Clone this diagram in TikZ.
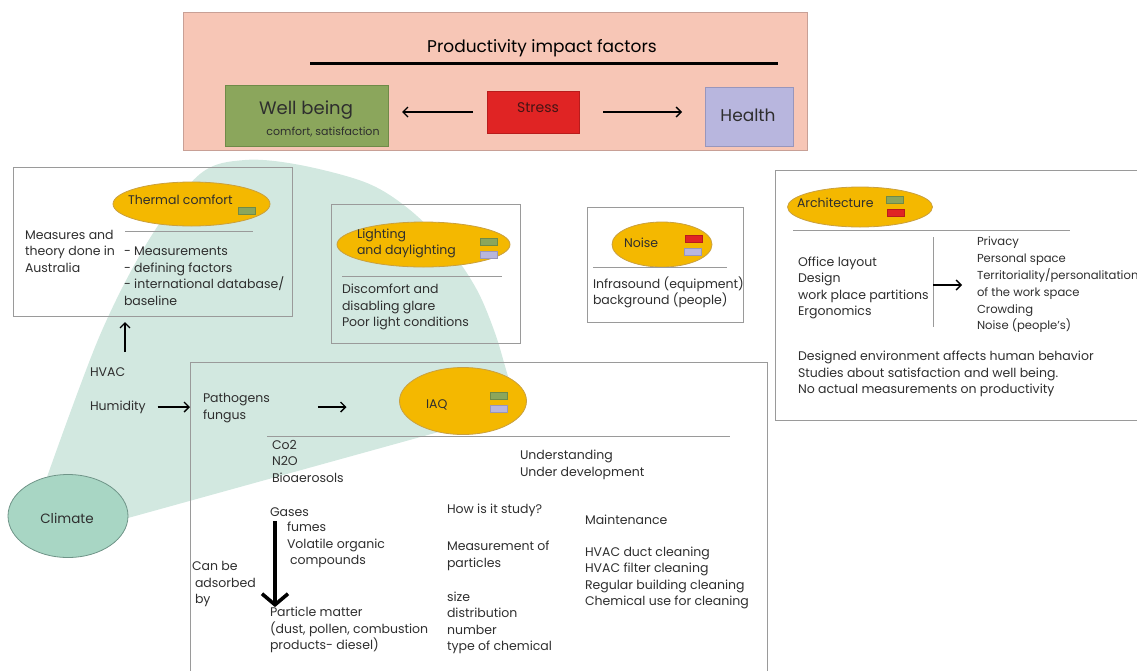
\documentclass[tikz,border=0pt]{standalone}
\usepackage{fontspec}
\setmainfont{Poppins}
\usetikzlibrary{shapes.geometric,arrows.meta}
\definecolor{pinkbg}{HTML}{F7C6B6}
\definecolor{pinkdraw}{HTML}{C8A096}
\definecolor{wbgreen}{HTML}{8BA65C}
\definecolor{wbgreendraw}{HTML}{6F8A48}
\definecolor{stressred}{HTML}{E02424}
\definecolor{stressdraw}{HTML}{B81C1C}
\definecolor{healthlav}{HTML}{B8B6DE}
\definecolor{healthdraw}{HTML}{9896BC}
\definecolor{gold}{HTML}{F4B800}
\definecolor{golddraw}{HTML}{C9A040}
\definecolor{wedgecol}{HTML}{D2E8E0}
\definecolor{climfill}{HTML}{A8D6C4}
\definecolor{climdraw}{HTML}{6F9488}
\definecolor{boxgray}{HTML}{9A9A9A}
\definecolor{txtgray}{HTML}{2E2E2E}
\tikzset{
  every node/.style={inner sep=0pt, outer sep=0pt},
  body/.style={font=\fontsize{12.5}{16.5}\selectfont, align=left, anchor=west, text=txtgray},
  frame/.style={draw=boxgray, line width=0.9pt, rectangle, anchor=north west},
  oval/.style={ellipse, fill=gold, draw=golddraw, line width=0.8pt},
  tagbase/.style={rectangle, line width=0.6pt, minimum width=17pt, minimum height=7pt},
  tagg/.style={tagbase, fill=wbgreen, draw=wbgreendraw},
  tagl/.style={tagbase, fill=healthlav, draw=healthdraw},
  tagr/.style={tagbase, fill=stressred, draw=stressdraw},
  sepline/.style={draw=boxgray, line width=0.9pt},
  arr/.style={-{Straight Barb[length=5pt,width=10pt]}, line width=1.4pt, black},
}
\begin{document}
\begin{tikzpicture}[x=1pt,y=-1pt]
\useasboundingbox (0,0) rectangle (1137,670);
% green wedge from climate
\fill[wedgecol] plot[smooth, tension=0.55] coordinates {(47,477) (100,335) (150,238) (200,174) (245,160) (300,165) (367,183) (410,210) (450,250) (477,290) (495,333) (507,373) (518,410)} -- (128,518) -- (60,500) -- cycle;

% top box
\node[frame, draw=pinkdraw, fill=pinkbg, minimum width=624pt, minimum height=138pt] (prodbox) at (183,12) {};
\node[font=\fontsize{17}{20}\selectfont] (title) at (542,48) {Productivity impact factors};
\draw[line width=3pt] (310,63) -- (778,63);
\node[rectangle, fill=wbgreen, draw=wbgreendraw, line width=0.8pt, minimum width=163pt, minimum height=61pt] (wellbeing) at (306.5,115.5) {};
\node[font=\fontsize{18}{20}\selectfont, text=txtgray] (wbtext) at (306,110) {Well being};
\node[font=\fontsize{11}{13}\selectfont, text=txtgray] (wbsub) at (323,132) {comfort, satisfaction};
\node[rectangle, fill=stressred, draw=stressdraw, line width=0.8pt, minimum width=92pt, minimum height=42pt] (stress) at (533,112) {};
\node[font=\fontsize{14}{16}\selectfont, text={rgb,255:red,70;green,20;blue,20}] (stresstext) at (538,108) {Stress};
\node[rectangle, fill=healthlav, draw=healthdraw, line width=0.8pt, minimum width=88pt, minimum height=59pt] (health) at (749,116.5) {};
\node[font=\fontsize{17}{20}\selectfont, text=txtgray] (healthtext) at (748,115) {Health};
\draw[arr, shorten <=14pt, shorten >=14pt] (stress.west) -- (wellbeing.east |- stress.west);
\draw[arr, shorten <=24pt, shorten >=23pt] (stress.east) -- (health.west |- stress.east);

% thermal comfort
\node[frame, minimum width=279pt, minimum height=149pt] (thermal) at (13,167) {};
\node[oval, minimum width=157pt, minimum height=44pt] (thermoval) at (191.5,204) {};
\node[body] (thermtext) at (128,200) {Thermal comfort};
\node[tagg] (thermtag) at (247,210.5) {};
\draw[sepline] (125,231) -- (253,231);
\node[body] (measures) at (25,251) {Measures and\\theory done in\\Australia};
\node[body] (thermlist) at (124,276) {- Measurements\\- defining factors\\- international database/\\baseline};

% HVAC / humidity
\node[body] (hvac) at (90,372) {HVAC};
\node[body] (humidity) at (90,407) {Humidity};
\coordinate (hvup) at (125,352);
\draw[arr, shorten >=6pt] (hvup) -- (hvup |- thermal.south);

% IAQ
\node[frame, minimum width=577pt, minimum height=330pt] (iaqbox) at (190,362) {};
\node[body] (pathogens) at (203,408) {Pathogens\\fungus};
\draw[arr, shorten <=12pt, shorten >=13pt] (humidity.east) -- (humidity.east -| pathogens.west);
\node[oval, minimum width=127pt, minimum height=67pt] (iaq) at (463,401) {};
\node[body] (iaqtext) at (426,405) {IAQ};
\node[tagg] (iaqtag1) at (499,395.5) {};
\node[tagl] (iaqtag2) at (499,408.5) {};
\draw[arr, shorten <=48pt, shorten >=53pt] (pathogens.east |- humidity.east) -- (iaq.west |- humidity.east);
\draw[sepline] (267,436) -- (730,436);
\node[body] (gaslist) at (272,461) {Co2\\N2O\\Bioaerosols};
\node[body] (understanding) at (520,465) {Understanding\\Under development};
\node[body] (gases) at (270,512) {Gases};
\node[body] (fumes) at (287,545) {fumes\\Volatile organic\\\hspace*{3pt}compounds};
\coordinate (thicktop) at (275,521);
\node[body] (particle) at (270,630) {Particle matter\\(dust, pollen, combustion\\products- diesel)};
\draw[line width=3.6pt, -{Straight Barb[length=11pt,width=26pt]}] (thicktop) -- (thicktop |- particle.north);
\node[body] (canbe) at (192,584) {Can be\\\hspace*{3pt}adsorbed\\\hspace*{3pt}by};
\node[body] (howstudy) at (447,510) {How is it study?};
\node[body] (measpart) at (447,556) {Measurement of\\particles};
\node[body] (sizelist) at (447,623) {size\\distribution\\number\\type of chemical};
\node[body] (maint) at (585,520) {Maintenance};
\node[body] (maintlist) at (585,578) {HVAC duct cleaning\\HVAC filter cleaning\\Regular building cleaning\\Chemical use for cleaning};

% lighting
\node[frame, minimum width=189pt, minimum height=139pt] (lighting) at (331,204) {};
\node[oval, minimum width=173pt, minimum height=45pt] (lightoval) at (423.5,244.5) {};
\node[body] (lighttext) at (357,243.5) {Lighting\\and daylighting};
\node[tagg] (lighttag1) at (489,241.5) {};
\node[tagl] (lighttag2) at (489,255) {};
\draw[sepline] (342,276) -- (502,276);
\node[body] (glare) at (342,307) {Discomfort and\\disabling glare\\Poor light conditions};

% noise
\node[frame, minimum width=156pt, minimum height=115pt] (noise) at (587,207) {};
\node[oval, minimum width=100pt, minimum height=45pt] (noiseoval) at (662,244.5) {};
\node[body] (noisetext) at (624,243) {Noise};
\node[tagr] (noisetag1) at (694,238.5) {};
\node[tagl] (noisetag2) at (693,251.5) {};
\draw[sepline] (593,267) -- (727,267);
\node[body] (infra) at (593,292.5) {Infrasound (equipment)\\background (people)};

% architecture
\node[frame, minimum width=380pt, minimum height=250pt] (arch) at (775,170) {};
\node[oval, minimum width=145pt, minimum height=40pt] (archoval) at (860,207) {};
\node[body] (archtext) at (797,203) {Architecture};
\node[tagg] (archtag1) at (895,199.5) {};
\node[tagr] (archtag2) at (896,213) {};
\draw[sepline] (793,230) -- (1070,230);
\draw[sepline] (933,237) -- (933,327);
\node[body] (archleft) at (798,288) {Office layout\\Design\\work place partitions\\Ergonomics};
\node[body, font=\fontsize{11.6}{16.8}\selectfont] (archright) at (977,285) {Privacy\\Personal space\\Territoriality/personalitation\\of the work space\\Crowding\\Noise (people's)};
\draw[arr, shorten >=15pt] (933,285) -- (archright.west);
\node[body] (archnotes) at (798,374) {Designed environment affects human behavior\\Studies about satisfaction and well being.\\No actual measurements on productivity};

% climate
\node[ellipse, fill=climfill, draw=climdraw, line width=0.8pt, minimum width=120pt, minimum height=83pt] (climate) at (68,516) {};
\node[font=\fontsize{13.5}{16}\selectfont, text=txtgray] (climtext) at (67,518) {Climate};
\end{tikzpicture}
\end{document}
